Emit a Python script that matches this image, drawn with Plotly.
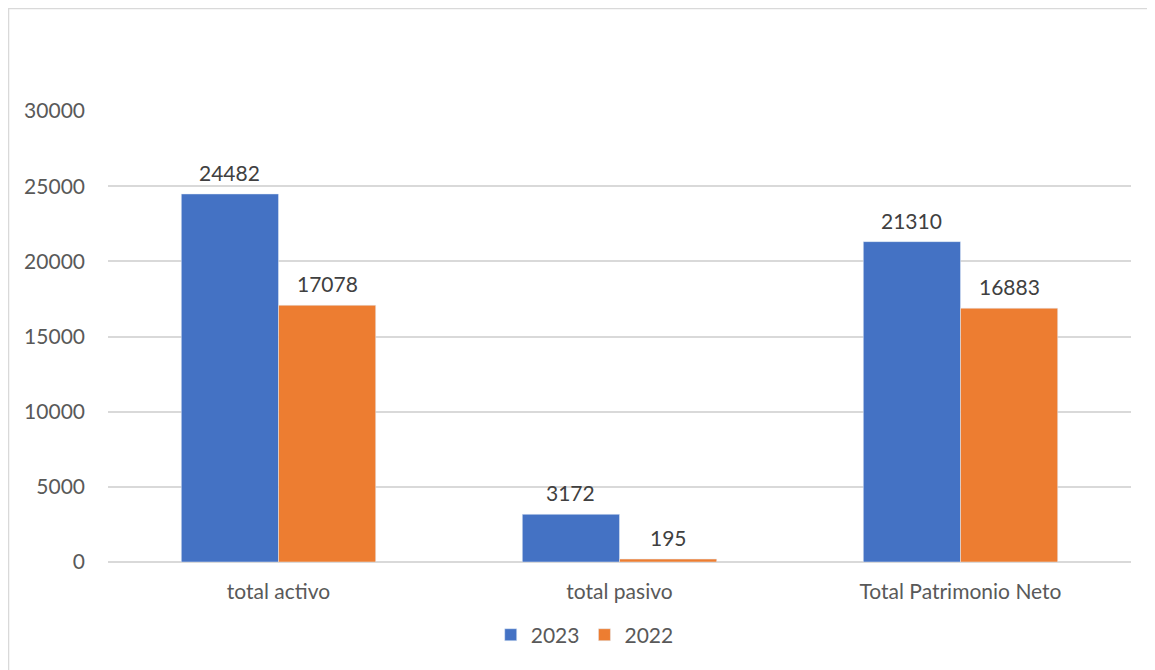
import plotly.graph_objects as go

categories = ["total activo", "total pasivo", "Total Patrimonio Neto"]
values_2023 = [24482, 3172, 21310]
values_2022 = [17078, 195, 16883]
y_ticks = [0, 5000, 10000, 15000, 20000, 25000, 30000]

# page body has an 8px margin, so the figure is sized to fit the window
W, H = 1147, 662
L, R, T, B = 100, 24, 103, 108
pw, ph = W - L - R, H - T - B

font_family = "Lato, Open Sans, sans-serif"
text_color = "#595959"
label_color = "#404040"
bargap = 0.43

fig = go.Figure()
fig.add_trace(go.Bar(x=categories, y=values_2023, name="2023", marker_color="#4472C4"))
fig.add_trace(go.Bar(x=categories, y=values_2022, name="2022", marker_color="#ED7D31"))

# data labels placed above each bar
bar_px = pw / len(categories) * (1 - bargap) / 2
annotations = []
for vals, shift in ((values_2023, -bar_px / 2), (values_2022, bar_px / 2)):
    for c, v in zip(categories, vals):
        annotations.append(dict(x=c, y=v, text=str(v), showarrow=False, xshift=shift,
                                yanchor="bottom", yshift=7,
                                font=dict(size=21, color=label_color)))

fig.update_layout(
    width=W, height=H,
    margin=dict(l=L, r=R, t=T, b=B),
    plot_bgcolor="white", paper_bgcolor="white",
    font=dict(family=font_family, size=21, color=text_color),
    barmode="group", bargap=bargap, bargroupgap=0,
    showlegend=True,
    legend=dict(orientation="h", x=0.466, xanchor="center", y=-0.162, yanchor="middle",
                font=dict(size=21, color=text_color), traceorder="normal"),
    annotations=annotations,
    shapes=[dict(type="rect", xref="paper", yref="paper",
                 x0=-L / pw + 0.0005, x1=(W + 5 - L) / pw,
                 y0=-(B + 5) / ph, y1=(ph + T - 0.5) / ph,
                 line=dict(color="#d9d9d9", width=1.5), layer="below")],
)
fig.update_xaxes(showgrid=False, showline=False, ticks="", ticklabelstandoff=15)
fig.update_yaxes(range=[0, 30000], tickvals=y_ticks, ticktext=[str(t) for t in y_ticks],
                 showgrid=True, gridcolor="#d9d9d9", gridwidth=1.5,
                 zeroline=True, zerolinecolor="#d9d9d9", zerolinewidth=1.5,
                 showline=False, ticks="", ticklabelstandoff=22)

fig.write_html("out.html")
